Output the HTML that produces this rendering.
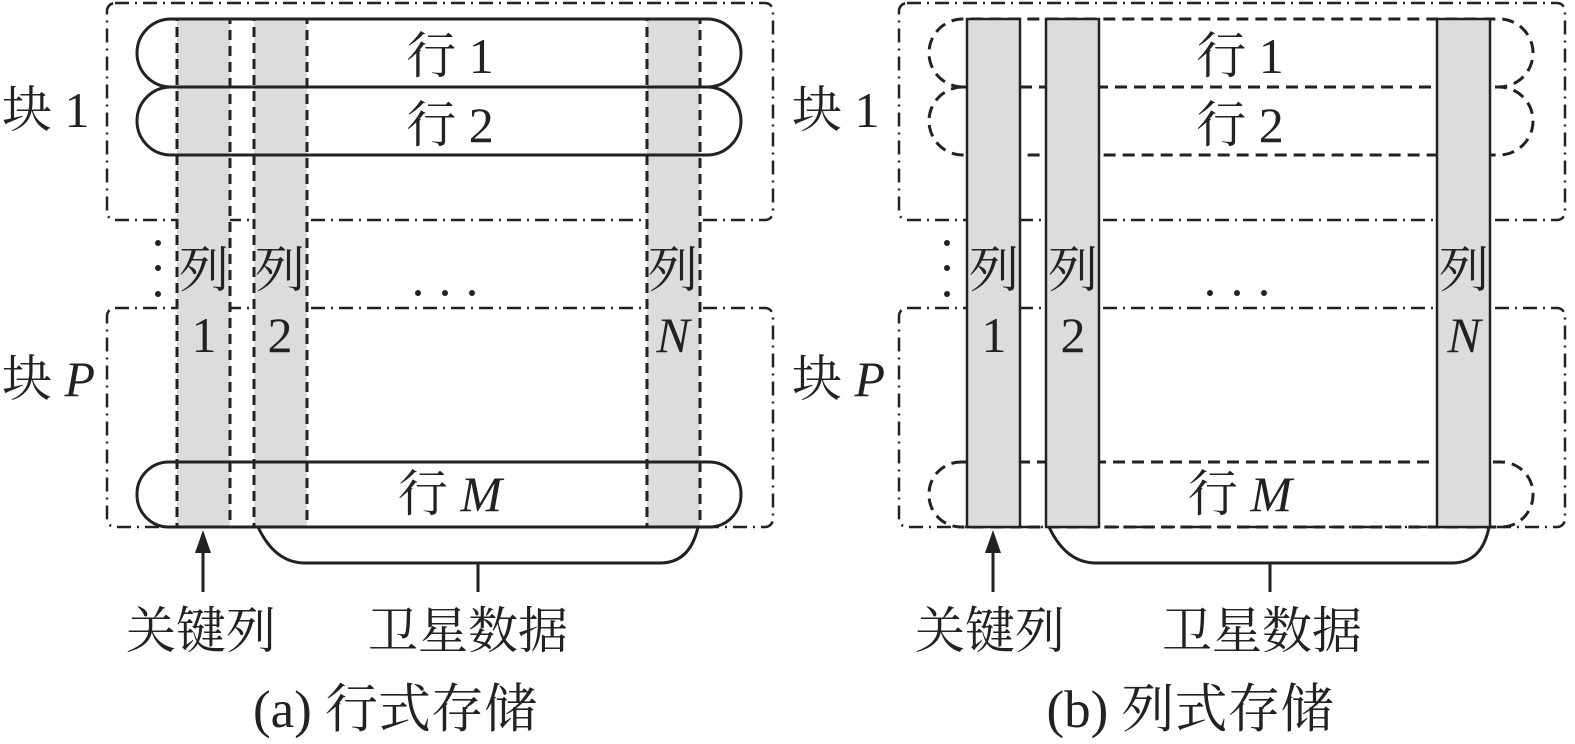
<!DOCTYPE html>
<html><head><meta charset="utf-8"><style>
html,body{margin:0;padding:0;background:#fff;}
svg{display:block;}
text{font-family:"Liberation Serif","Noto Serif CJK SC",serif;font-size:50px;fill:#222;text-anchor:middle;}
.i{font-style:italic;}
.l{text-anchor:start;}
.c{font-size:53px;}
</style></head><body>
<svg width="1575" height="744" viewBox="0 0 1575 744">
<!-- LEFT PANEL -->
<g fill="none" stroke="#222" stroke-width="2.5" stroke-dasharray="14,6,2,6">
<rect x="107" y="3" width="666" height="217" rx="8"/>
<rect x="107" y="308" width="666" height="219" rx="8"/>
</g>
<g fill="#dcdcdc" stroke="#222" stroke-width="3" stroke-dasharray="10,6">
<rect x="177" y="19" width="53" height="508"/>
<rect x="254" y="19" width="53" height="508"/>
<rect x="647" y="19" width="53" height="508"/>
</g>
<g fill="none" stroke="#222" stroke-width="3">
<rect x="137" y="19" width="604" height="68" rx="34"/>
<rect x="137" y="87" width="604" height="68" rx="34"/>
<rect x="137" y="462" width="604" height="65" rx="32"/>
<path d="M258 527 Q275 563 305 563 L660 563 Q690 563 698 527"/>
<line x1="478" y1="563" x2="478" y2="592"/>
<line x1="203" y1="592" x2="203" y2="550"/>
</g>
<polygon points="203,530 195,553 211,553" fill="#222"/>
<g fill="#222"><circle cx="158" cy="243" r="3"/><circle cx="158" cy="268" r="3"/><circle cx="158" cy="294" r="3"/>
<circle cx="418" cy="293" r="3"/><circle cx="445" cy="293" r="3"/><circle cx="472" cy="293" r="3"/></g>
<text x="450" y="73">行 1</text>
<text x="450" y="142">行 2</text>
<text x="450" y="511">行 <tspan class="i">M</tspan></text>
<text x="204" y="287">列</text><text x="280" y="287">列</text><text x="673" y="287">列</text>
<text x="204" y="352">1</text><text x="280" y="352">2</text><text x="673" y="352" class="i">N</text>
<text x="2" y="127" class="l">块 1</text>
<text x="2" y="396" class="l">块 <tspan class="i">P</tspan></text>
<text x="201" y="648">关键列</text>
<text x="468" y="648">卫星数据</text>
<text x="395" y="727" class="c">(a)  行式存储</text>

<!-- RIGHT PANEL -->
<g fill="none" stroke="#222" stroke-width="2.5" stroke-dasharray="14,6,2,6">
<rect x="899" y="3" width="666" height="217" rx="8"/>
<rect x="899" y="308" width="666" height="219" rx="8"/>
</g>
<g fill="none" stroke="#222" stroke-width="3" stroke-dasharray="12,7">
<path d="M963 87 A34 34 0 0 1 963 19 L1499 19 A34 34 0 0 1 1499 87"/>
<rect x="929" y="87" width="604" height="68" rx="34"/>
<rect x="929" y="462" width="604" height="65" rx="32"/>
</g>
<g fill="#dcdcdc" stroke="#222" stroke-width="2.5">
<rect x="967" y="19" width="53" height="508"/>
<rect x="1046" y="19" width="53" height="508"/>
<rect x="1437" y="19" width="53" height="508"/>
</g>
<g fill="none" stroke="#222" stroke-width="3">
<path d="M1049 527 Q1066 563 1096 563 L1452 563 Q1482 563 1489 527"/>
<line x1="1270" y1="563" x2="1270" y2="592"/>
<line x1="993" y1="592" x2="993" y2="550"/>
</g>
<polygon points="993,530 985,553 1001,553" fill="#222"/>
<g fill="#222"><circle cx="947" cy="243" r="3"/><circle cx="947" cy="268" r="3"/><circle cx="947" cy="294" r="3"/>
<circle cx="1210" cy="293" r="3"/><circle cx="1237" cy="293" r="3"/><circle cx="1264" cy="293" r="3"/></g>
<text x="1240" y="73">行 1</text>
<text x="1240" y="142">行 2</text>
<text x="1240" y="511">行 <tspan class="i">M</tspan></text>
<text x="994" y="287">列</text><text x="1073" y="287">列</text><text x="1464" y="287">列</text>
<text x="994" y="352">1</text><text x="1073" y="352">2</text><text x="1464" y="352" class="i">N</text>
<text x="792" y="127" class="l">块 1</text>
<text x="792" y="396" class="l">块 <tspan class="i">P</tspan></text>
<text x="990" y="648">关键列</text>
<text x="1262" y="648">卫星数据</text>
<text x="1190" y="727" class="c">(b)  列式存储</text>
</svg>
</body></html>
